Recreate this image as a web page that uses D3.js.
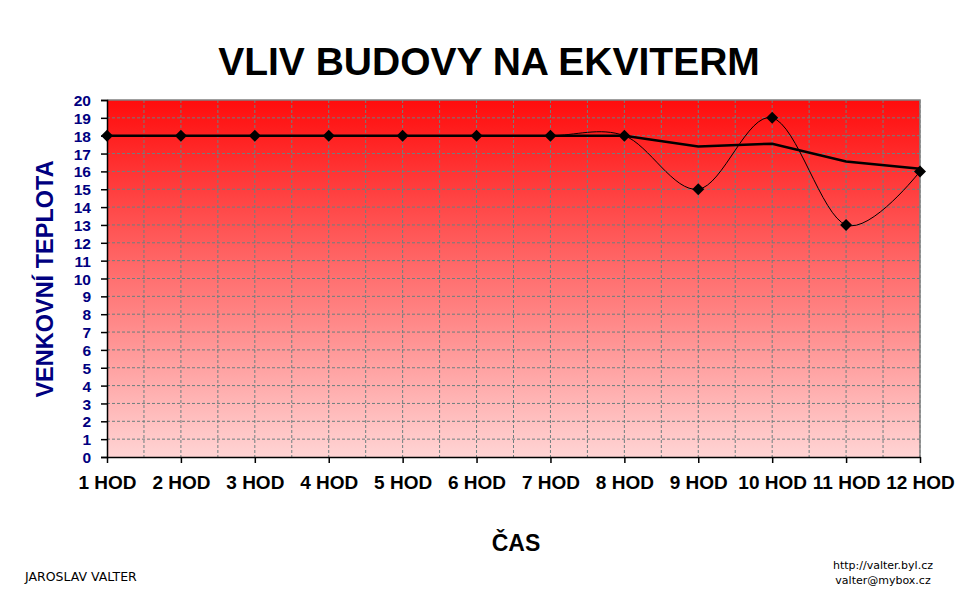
<!DOCTYPE html>
<html><head><meta charset="utf-8">
<script src="https://cdn.jsdelivr.net/npm/d3@7"></script>
<style>body{margin:0;background:#fff}svg{display:block}</style>
</head><body>
<script>
const categories = ["1 HOD","2 HOD","3 HOD","4 HOD","5 HOD","6 HOD","7 HOD","8 HOD","9 HOD","10 HOD","11 HOD","12 HOD"];
const outdoorTemp = [18,18,18,18,18,18,18,18,15,19,13,16];
const buildingTemp = [18,18,18,18,18,18,18,18,17.4,17.55,16.55,16.15];
const yTicks = d3.range(0,21,1);

const W=962,H=596;
const m={left:107,right:42,top:100,bottom:139};
const svg=d3.select("body").append("svg").attr("width",W).attr("height",H);
const x=d3.scalePoint().domain(categories).range([m.left,W-m.right]);
const y=d3.scaleLinear().domain([0,20]).range([H-m.bottom,m.top]);
const step=x.step();

const defs=svg.append("defs");
const g=defs.append("linearGradient").attr("id","bg").attr("x1",0).attr("y1",0).attr("x2",0).attr("y2",1);
g.append("stop").attr("offset","0%").attr("stop-color","#ff0c0c");
g.append("stop").attr("offset","100%").attr("stop-color","#ffd4d4");

svg.append("rect").attr("x",m.left).attr("y",m.top).attr("width",x.range()[1]-m.left).attr("height",y(0)-m.top).attr("fill","url(#bg)");

// gridlines
const gx=[];
categories.forEach((c,i)=>{gx.push(x(c)); if(i<categories.length-1) gx.push(x(c)+step/2);});
svg.append("g").selectAll("line").data(gx.filter(v=>v>m.left+1)).join("line")
 .attr("x1",d=>d).attr("x2",d=>d).attr("y1",m.top).attr("y2",y(0))
 .attr("stroke","#6f7f7f").attr("stroke-dasharray","3,2").attr("stroke-width",1);
svg.append("g").selectAll("line").data(yTicks.filter(v=>v>0&&v<20)).join("line")
 .attr("x1",m.left).attr("x2",x.range()[1]).attr("y1",d=>y(d)).attr("y2",d=>y(d))
 .attr("stroke","#6f7f7f").attr("stroke-dasharray","3,2").attr("stroke-width",1);
// border top/right
svg.append("path").attr("d",`M${m.left},${m.top}H${x.range()[1]}V${y(0)}`).attr("fill","none").attr("stroke","#808080").attr("stroke-width",1.5);

// axes
const ya=svg.append("g").attr("transform",`translate(${m.left},0)`).call(d3.axisLeft(y).tickValues(yTicks).tickSize(6).tickPadding(10).tickFormat(d3.format("d")));
ya.select(".domain").attr("stroke","#000").attr("stroke-width",1.5);
ya.selectAll(".tick line").attr("stroke","#000").attr("stroke-width",1.5);
ya.selectAll("text").attr("font-family","Liberation Sans, Arial, sans-serif").attr("font-weight","bold").attr("font-size","15.5px").attr("fill","#000080").attr("dy","0.36em");

const xa=svg.append("g").attr("transform",`translate(0,${y(0)})`).call(d3.axisBottom(x).tickSize(6).tickSizeOuter(0).tickPadding(13));
xa.select(".domain").attr("stroke","#000").attr("stroke-width",1.5);
xa.selectAll(".tick line").attr("stroke","#000").attr("stroke-width",1.5);
xa.selectAll("text").attr("font-family","Liberation Sans, Arial, sans-serif").attr("font-weight","bold").attr("font-size","19px").attr("fill","#000");

// lines
const thin=d3.line().x((d,i)=>x(categories[i])).y(d=>y(d)).curve(d3.curveCardinal.tension(0));
svg.append("path").datum(outdoorTemp).attr("d",thin).attr("fill","none").attr("stroke","#000").attr("stroke-width",1);
const thick=d3.line().x((d,i)=>x(categories[i])).y(d=>y(d));
svg.append("path").datum(buildingTemp).attr("d",thick).attr("fill","none").attr("stroke","#000").attr("stroke-width",2.5);
svg.append("g").selectAll("path").data(outdoorTemp).join("path")
 .attr("transform",(d,i)=>`translate(${x(categories[i])},${y(d)})`)
 .attr("d","M0,-6L6,0L0,6L-6,0Z").attr("fill","#000");

// texts
svg.append("text").attr("x",489).attr("y",75).attr("text-anchor","middle")
 .attr("font-family","Liberation Sans, Arial, sans-serif").attr("font-weight","bold").attr("font-size","39px").text("VLIV BUDOVY NA EKVITERM");
svg.append("text").attr("transform","translate(53,279) rotate(-90)").attr("text-anchor","middle")
 .attr("font-family","Liberation Sans, Arial, sans-serif").attr("font-weight","bold").attr("font-size","23.5px").attr("fill","#000080").text("VENKOVNÍ TEPLOTA");
svg.append("text").attr("x",516).attr("y",551).attr("text-anchor","middle")
 .attr("font-family","Liberation Sans, Arial, sans-serif").attr("font-weight","bold").attr("font-size","23px").text("ČAS");
svg.append("text").attr("x",25).attr("y",581)
 .attr("font-family","DejaVu Sans, sans-serif").attr("font-size","12.5px").text("JAROSLAV VALTER");
svg.append("text").attr("x",883).attr("y",569).attr("text-anchor","middle")
 .attr("font-family","DejaVu Sans, sans-serif").attr("font-size","11px").text("http://valter.byl.cz");
svg.append("text").attr("x",883).attr("y",584).attr("text-anchor","middle")
 .attr("font-family","DejaVu Sans, sans-serif").attr("font-size","11px").text("valter@mybox.cz");
</script>
</body></html>
